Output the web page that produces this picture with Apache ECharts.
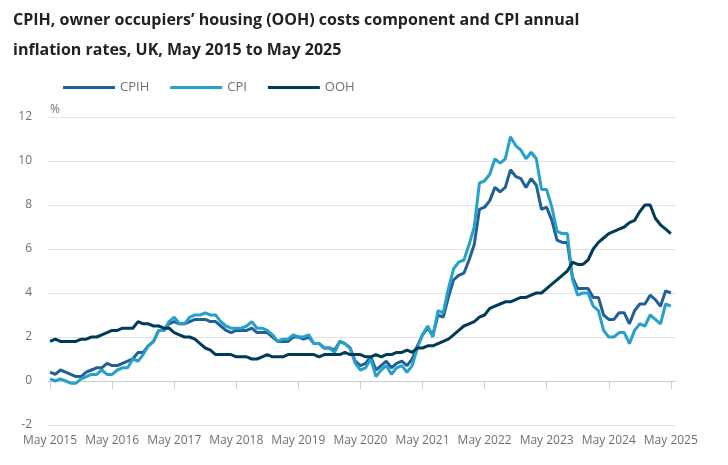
<!DOCTYPE html>
<html>
<head>
<meta charset="utf-8">
<script src="https://cdn.jsdelivr.net/npm/echarts@6/dist/echarts.min.js"></script>
<style>
html,body{margin:0;padding:0;background:#fff;}
#chart{width:728px;height:465px;}
</style>
</head>
<body>
<div id="chart"></div>
<script>
// Months from May 2015 to May 2025 (index 0 = May 2015)
const tickLabels = ['May 2015','May 2016','May 2017','May 2018','May 2019','May 2020','May 2021','May 2022','May 2023','May 2024','May 2025'];
const tickPositions = [0,12,24,36,48,60,72,84,96,108,120];

const cpih = [
  0.4,0.3,0.5,0.4,0.3,0.2,0.2,0.4,
  0.5,0.6,0.6,0.8,0.7,0.7,0.8,0.9,1.0,1.3,1.3,1.6,
  1.8,2.3,2.3,2.6,2.7,2.6,2.6,2.7,2.8,2.8,2.8,2.7,
  2.7,2.5,2.3,2.2,2.3,2.3,2.3,2.4,2.2,2.2,2.2,2.0,
  1.8,1.8,1.8,2.0,2.0,1.9,2.0,1.7,1.7,1.5,1.5,1.4,
  1.8,1.7,1.5,0.9,0.7,0.8,1.1,0.5,0.7,0.9,0.6,0.8,
  0.9,0.7,1.0,1.6,2.1,2.4,2.1,3.0,2.9,3.8,4.6,4.8,
  4.9,5.5,6.2,7.8,7.9,8.2,8.8,8.6,8.8,9.6,9.3,9.2,
  8.8,9.2,8.9,7.8,7.9,7.3,6.4,6.3,6.3,4.7,4.2,4.2,
  4.2,3.8,3.8,3.0,2.8,2.8,3.1,3.1,2.6,3.2,3.5,3.5,
  3.9,3.7,3.4,4.1,4.0
];
const cpi = [
  0.1,0.0,0.1,0.0,-0.1,-0.1,0.1,0.2,
  0.3,0.3,0.5,0.3,0.3,0.5,0.6,0.6,1.0,0.9,1.2,1.6,
  1.8,2.3,2.3,2.7,2.9,2.6,2.6,2.9,3.0,3.0,3.1,3.0,
  3.0,2.7,2.5,2.4,2.4,2.4,2.5,2.7,2.4,2.4,2.3,2.1,
  1.8,1.9,1.9,2.1,2.0,2.0,2.1,1.7,1.7,1.5,1.5,1.3,
  1.8,1.7,1.5,0.8,0.5,0.6,1.0,0.2,0.5,0.7,0.3,0.6,
  0.7,0.4,0.7,1.5,2.1,2.5,2.0,3.2,3.1,4.2,5.1,5.4,
  5.5,6.2,7.0,9.0,9.1,9.4,10.1,9.9,10.1,11.1,10.7,10.5,
  10.1,10.4,10.1,8.7,8.7,7.9,6.8,6.7,6.7,4.6,3.9,4.0,
  4.0,3.4,3.2,2.3,2.0,2.0,2.2,2.2,1.7,2.3,2.6,2.5,
  3.0,2.8,2.6,3.5,3.4
];
const ooh = [
  1.8,1.9,1.8,1.8,1.8,1.8,1.9,1.9,
  2.0,2.0,2.1,2.2,2.3,2.3,2.4,2.4,2.4,2.7,2.6,2.6,
  2.5,2.5,2.4,2.4,2.2,2.1,2.0,2.0,1.9,1.7,1.5,1.4,
  1.2,1.2,1.2,1.2,1.1,1.1,1.1,1.0,1.0,1.1,1.2,1.1,
  1.1,1.1,1.2,1.2,1.2,1.2,1.2,1.2,1.1,1.2,1.2,1.2,
  1.2,1.3,1.2,1.2,1.2,1.1,1.1,1.2,1.1,1.2,1.2,1.3,
  1.3,1.4,1.3,1.5,1.5,1.6,1.6,1.7,1.8,1.9,2.1,2.3,
  2.5,2.6,2.7,2.9,3.0,3.3,3.4,3.5,3.6,3.6,3.7,3.8,
  3.8,3.9,4.0,4.0,4.2,4.4,4.6,4.8,5.0,5.4,5.3,5.3,
  5.5,6.0,6.3,6.5,6.7,6.8,6.9,7.0,7.2,7.3,7.7,8.0,
  8.0,7.4,7.1,6.9,6.7
];

function toPairs(arr){ return arr.map((v,i)=>[i,v]); }

const font = '"Open Sans", "Noto Sans", sans-serif';
const chart = echarts.init(document.getElementById('chart'), null, {renderer:'canvas'});
chart.setOption({
  animation:false,
  backgroundColor:'#ffffff',
  title:{
    text:'CPIH, owner occupiers\u2019 housing (OOH) costs component and CPI annual\ninflation rates, UK, May 2015 to May 2025',
    left:8, top:0,
    textStyle:{fontFamily:font, fontSize:16, fontWeight:'bold', color:'#222222', lineHeight:30}
  },
  legend:{
    left:58, top:76,
    itemWidth:52, itemHeight:3, itemGap:21,
    icon:'rect',
    textStyle:{fontFamily:font, fontSize:13, color:'#707070'},
    data:['CPIH','CPI','OOH']
  },
  grid:{left:48, right:52, top:117, bottom:40, containLabel:false},
  xAxis:{
    type:'value', min:-0.4, max:121,
    splitLine:{show:false},
    axisLine:{show:true, lineStyle:{color:'#c9ced8', width:1}},
    axisTick:{show:true, length:8, lineStyle:{color:'#c9ced8'}, customValues:tickPositions},
    axisLabel:{
      customValues:tickPositions,
      fontFamily:font, fontSize:12, color:'#707070', margin:10,
      formatter:function(v){ const i = tickPositions.indexOf(Math.round(v)); return i>=0 ? tickLabels[i] : ''; }
    }
  },
  yAxis:{
    type:'value', min:-2, max:12, interval:2,
    name:'%', nameLocation:'end', nameGap:1,
    nameTextStyle:{fontFamily:font, fontSize:12, color:'#707070', align:'left'},
    axisLine:{show:false}, axisTick:{show:false},
    axisLabel:{fontFamily:font, fontSize:12, color:'#707070', margin:16},
    splitLine:{lineStyle:{color:'#e3e3e3', width:1}}
  },
  series:[
    {name:'CPIH', type:'line', data:toPairs(cpih), showSymbol:false, symbol:'none',
     lineStyle:{color:'#206095', width:3}, itemStyle:{color:'#206095'}},
    {name:'CPI', type:'line', data:toPairs(cpi), showSymbol:false, symbol:'none',
     lineStyle:{color:'#27a0cc', width:3}, itemStyle:{color:'#27a0cc'}},
    {name:'OOH', type:'line', data:toPairs(ooh), showSymbol:false, symbol:'none',
     lineStyle:{color:'#003c57', width:3}, itemStyle:{color:'#003c57'}}
  ]
});
</script>
</body>
</html>
